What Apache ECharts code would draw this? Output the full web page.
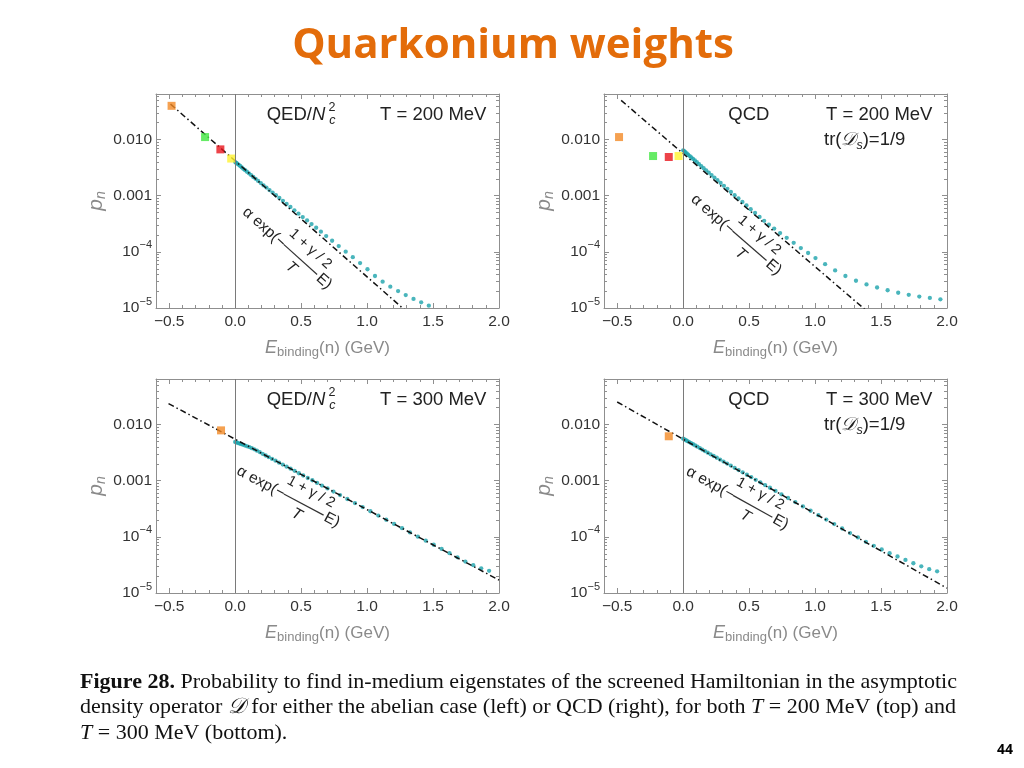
<!DOCTYPE html>
<html><head><meta charset="utf-8">
<script src="https://cdn.jsdelivr.net/npm/echarts@6/dist/echarts.min.js"></script>
<style>html,body{margin:0;padding:0;background:#fff;}#c{width:1024px;height:768px;}</style>
</head><body><div id="c"></div>
<script>
// ---------- axis ticks ----------
const xTickValues = [-0.5, 0, 0.5, 1.0, 1.5, 2.0];
const xTickLabels = ['−0.5', '0.0', '0.5', '1.0', '1.5', '2.0'];
const yTickExponents = [-5, -4, -3, -2];
const yTickLabels = ['{m|10}{s|−5}', '{m|10}{s|−4}', '{m|0.001}', '{m|0.010}'];
const xMin = -0.6, xMax = 2.0, yMin = 1e-5, yMax = 0.065;

// ---------- panel 1: QED/Nc^2, T = 200 MeV ----------
const qed200BoundE = [-0.482, -0.228, -0.112, -0.030];
const qed200BoundP = [0.040, 0.0111, 0.0067, 0.0046];
const qed200ContE = [0.000,0.008,0.017,0.027,0.038,0.050,0.062,0.075,0.089,0.104,0.120,0.137,0.155,0.174,0.194,0.215,0.237,0.260,0.284,0.309,0.335,0.362,0.390,0.419,0.449,0.480,0.512,0.545,0.579,0.614,0.650,0.690,0.735,0.785,0.838,0.892,0.947,1.003,1.060,1.118,1.176,1.235,1.293,1.352,1.410,1.468];
const qed200ContP = [3.98e-3,3.85e-3,3.72e-3,3.55e-3,3.39e-3,3.20e-3,3.02e-3,2.85e-3,2.69e-3,2.51e-3,2.34e-3,2.16e-3,2.00e-3,1.84e-3,1.68e-3,1.53e-3,1.40e-3,1.26e-3,1.14e-3,1.02e-3,9.12e-4,8.13e-4,7.16e-4,6.31e-4,5.50e-4,4.79e-4,4.17e-4,3.63e-4,3.13e-4,2.69e-4,2.29e-4,1.91e-4,1.58e-4,1.27e-4,1.01e-4,8.04e-5,6.31e-5,4.90e-5,3.72e-5,2.95e-5,2.40e-5,2.00e-5,1.70e-5,1.45e-5,1.26e-5,1.10e-5];
const qed200FitE = [-0.49, 1.30];
const qed200FitP = [0.043, 8.6e-6];

// ---------- panel 2: QCD, T = 200 MeV ----------
const qcd200BoundE = [-0.486, -0.228, -0.109, -0.035];
const qcd200BoundP = [0.0111, 0.0051, 0.0049, 0.0051];
const qcd200ContE = [0.000,0.008,0.017,0.027,0.038,0.050,0.062,0.075,0.089,0.104,0.120,0.137,0.155,0.174,0.194,0.215,0.237,0.260,0.284,0.309,0.335,0.362,0.390,0.419,0.449,0.480,0.512,0.545,0.579,0.614,0.650,0.690,0.735,0.785,0.838,0.892,0.947,1.003,1.076,1.152,1.230,1.310,1.390,1.470,1.550,1.630,1.710,1.790,1.870,1.950];
const qcd200ContP = [6.46e-3,6.22e-3,5.96e-3,5.69e-3,5.40e-3,5.09e-3,4.82e-3,4.53e-3,4.25e-3,3.95e-3,3.66e-3,3.38e-3,3.10e-3,2.84e-3,2.58e-3,2.34e-3,2.11e-3,1.89e-3,1.69e-3,1.50e-3,1.33e-3,1.17e-3,1.02e-3,8.93e-4,7.76e-4,6.70e-4,5.75e-4,4.93e-4,4.20e-4,3.57e-4,3.05e-4,2.60e-4,2.16e-4,1.78e-4,1.45e-4,1.17e-4,9.55e-5,7.76e-5,6.03e-5,4.68e-5,3.72e-5,3.06e-5,2.63e-5,2.32e-5,2.07e-5,1.87e-5,1.72e-5,1.60e-5,1.51e-5,1.43e-5];
const qcd200FitE = [-0.47, 1.40];
const qcd200FitP = [0.050, 8.5e-6];

// ---------- panel 3: QED/Nc^2, T = 300 MeV ----------
const qed300BoundE = [-0.107];
const qed300BoundP = [0.0079];
const qed300ContE = [0.000,0.010,0.021,0.033,0.046,0.060,0.075,0.091,0.108,0.126,0.145,0.165,0.186,0.208,0.231,0.255,0.280,0.306,0.333,0.361,0.390,0.420,0.451,0.483,0.516,0.550,0.585,0.621,0.658,0.700,0.745,0.795,0.850,0.908,0.966,1.025,1.085,1.145,1.205,1.265,1.325,1.385,1.445,1.505,1.565,1.625,1.685,1.745,1.805,1.865,1.925];
const qed300ContP = [4.90e-3,4.81e-3,4.71e-3,4.60e-3,4.49e-3,4.37e-3,4.24e-3,4.10e-3,3.98e-3,3.80e-3,3.63e-3,3.43e-3,3.24e-3,3.02e-3,2.82e-3,2.63e-3,2.45e-3,2.28e-3,2.10e-3,1.94e-3,1.78e-3,1.64e-3,1.50e-3,1.36e-3,1.24e-3,1.12e-3,1.02e-3,9.16e-4,8.22e-4,7.29e-4,6.41e-4,5.55e-4,4.73e-4,4.00e-4,3.39e-4,2.86e-4,2.40e-4,2.02e-4,1.70e-4,1.43e-4,1.20e-4,1.01e-4,8.55e-5,7.24e-5,6.10e-5,5.13e-5,4.32e-5,3.63e-5,3.13e-5,2.75e-5,2.48e-5];
const qed300FitE = [-0.505, 2.0];
const qed300FitP = [0.0237, 1.70e-5];

// ---------- panel 4: QCD, T = 300 MeV ----------
const qcd300BoundE = [-0.109];
const qcd300BoundP = [0.0062];
const qcd300ContE = [0.000,0.010,0.021,0.033,0.046,0.060,0.075,0.091,0.108,0.126,0.145,0.165,0.186,0.208,0.231,0.255,0.280,0.306,0.333,0.361,0.390,0.420,0.451,0.483,0.516,0.550,0.585,0.621,0.658,0.700,0.745,0.795,0.850,0.908,0.966,1.025,1.085,1.145,1.205,1.265,1.325,1.385,1.445,1.505,1.565,1.625,1.685,1.745,1.805,1.865,1.925];
const qcd300ContP = [5.62e-3,5.46e-3,5.27e-3,5.08e-3,4.89e-3,4.68e-3,4.47e-3,4.26e-3,4.04e-3,3.82e-3,3.60e-3,3.38e-3,3.17e-3,2.96e-3,2.76e-3,2.57e-3,2.38e-3,2.20e-3,2.02e-3,1.86e-3,1.70e-3,1.55e-3,1.41e-3,1.28e-3,1.16e-3,1.04e-3,9.38e-4,8.39e-4,7.50e-4,6.59e-4,5.74e-4,4.93e-4,4.17e-4,3.49e-4,2.92e-4,2.44e-4,2.03e-4,1.69e-4,1.41e-4,1.17e-4,9.77e-5,8.17e-5,6.92e-5,5.96e-5,5.13e-5,4.47e-5,3.89e-5,3.39e-5,2.99e-5,2.66e-5,2.43e-5];
const qcd300FitE = [-0.50, 2.0];
const qcd300FitP = [0.0253, 1.22e-5];

const boundColors = ['#f28a26', '#3ee63e', '#e8141c', '#fff230'];
const contColor = '#1ba3ab';

const panels = [
  {kind:'QED', T:'200', bE:qed200BoundE, bP:qed200BoundP, cE:qed200ContE, cP:qed200ContP, fE:qed200FitE, fP:qed200FitP},
  {kind:'QCD', T:'200', bE:qcd200BoundE, bP:qcd200BoundP, cE:qcd200ContE, cP:qcd200ContP, fE:qcd200FitE, fP:qcd200FitP},
  {kind:'QED', T:'300', bE:qed300BoundE, bP:qed300BoundP, cE:qed300ContE, cP:qed300ContP, fE:qed300FitE, fP:qed300FitP},
  {kind:'QCD', T:'300', bE:qcd300BoundE, bP:qcd300BoundP, cE:qcd300ContE, cP:qcd300ContP, fE:qcd300FitE, fP:qcd300FitP}
];

// ---------- layout ----------
const layout = [
  {left:156, top:94, ax:244.7, ay:210, rot:42},
  {left:604, top:94, ax:693, ay:197.3, rot:41},
  {left:156, top:379, ax:237.7, ay:470, rot:28},
  {left:604, top:379, ax:687.3, ay:470.6, rot:29}
];
const W = 343, H = 214;
const frameColor = '#8f8f8f', labelColor = '#333', nameColor = '#8a8a8a';
const sans = 'Liberation Sans';
const logMin = Math.log10(yMin), logMax = Math.log10(yMax);
const yMinorTicks = [];
for (let n = -5; n <= -2; n++) for (let k = 2; k <= 9; k++) { const v = n + Math.log10(k); if (v < logMax) yMinorTicks.push(v); }

const grids = [], xAxes = [], yAxes = [], series = [], graphics = [];
const findIdx = (arr, v) => arr.findIndex(e => Math.abs(e - v) < 1e-7);

panels.forEach((p, i) => {
  const L = layout[i];
  grids.push({left:L.left, top:L.top, width:W, height:H});
  const xb = xAxes.length, yb = yAxes.length;
  const frameLine = {show:true, onZero:false, lineStyle:{color:frameColor, width:1}};
  const noLine = {show:false, onZero:false};
  const majX = {show:true, inside:true, length:5, customValues:xTickValues, lineStyle:{color:frameColor}};
  const minX = {show:true, inside:true, length:3, lineStyle:{color:frameColor}};
  const majY = {show:true, inside:true, length:5, customValues:yTickExponents, lineStyle:{color:frameColor}};
  const minY = {show:true, inside:true, length:3, customValues:yMinorTicks, lineStyle:{color:frameColor}};
  // x axes
  xAxes.push({gridIndex:i, type:'value', position:'bottom', min:xMin, max:xMax, axisLine:frameLine, axisTick:majX, splitLine:{show:false},
    axisLabel:{show:true, customValues:xTickValues, formatter:v => { const k = findIdx(xTickValues, v); return k >= 0 ? xTickLabels[k] : ''; },
      color:labelColor, fontFamily:sans, fontSize:15.5, margin:6},
    name:'{e|E}{b|binding}{t|(n) (GeV)}', nameLocation:'middle', nameGap:29,
    nameTextStyle:{color:nameColor, rich:{
      e:{fontFamily:sans, fontSize:18, fontStyle:'italic', color:nameColor, lineHeight:22},
      b:{fontFamily:sans, fontSize:13, color:nameColor, lineHeight:13, verticalAlign:'bottom'},
      t:{fontFamily:sans, fontSize:17, color:nameColor, lineHeight:22}}}});
  xAxes.push({gridIndex:i, type:'value', position:'bottom', min:xMin, max:xMax, interval:0.1, axisLine:noLine, axisTick:minX, axisLabel:{show:false}, splitLine:{show:false}});
  xAxes.push({gridIndex:i, type:'value', position:'top', min:xMin, max:xMax, axisLine:frameLine, axisTick:majX, axisLabel:{show:false}, splitLine:{show:false}});
  xAxes.push({gridIndex:i, type:'value', position:'top', min:xMin, max:xMax, interval:0.1, axisLine:noLine, axisTick:minX, axisLabel:{show:false}, splitLine:{show:false}});
  // y axes
  yAxes.push({gridIndex:i, type:'log', logBase:10, position:'left', min:yMin, max:yMax, axisLine:frameLine, axisTick:{show:false}, axisLabel:{show:false}, splitLine:{show:false},
    name:'{p|p}{n|n}', nameLocation:'middle', nameGap:48,
    nameTextStyle:{color:nameColor, rich:{
      p:{fontFamily:sans, fontSize:21, fontStyle:'italic', color:nameColor, lineHeight:24},
      n:{fontFamily:sans, fontSize:14, fontStyle:'italic', color:nameColor, lineHeight:14, verticalAlign:'bottom'}}}});
  yAxes.push({gridIndex:i, type:'value', position:'left', min:logMin, max:logMax, axisLine:noLine, axisTick:majY, splitLine:{show:false},
    axisLabel:{show:true, customValues:yTickExponents, margin:4,
      formatter:v => { const k = findIdx(yTickExponents, v); return k >= 0 ? yTickLabels[k] : ''; },
      rich:{m:{fontFamily:sans, fontSize:15.5, color:labelColor, lineHeight:24},
            s:{fontFamily:sans, fontSize:11, color:labelColor, lineHeight:12, verticalAlign:'top'}}}});
  yAxes.push({gridIndex:i, type:'value', position:'left', min:logMin, max:logMax, axisLine:noLine, axisTick:minY, axisLabel:{show:false}, splitLine:{show:false}});
  yAxes.push({gridIndex:i, type:'value', position:'right', min:logMin, max:logMax, axisLine:frameLine, axisTick:majY, axisLabel:{show:false}, splitLine:{show:false}});
  yAxes.push({gridIndex:i, type:'value', position:'right', min:logMin, max:logMax, axisLine:noLine, axisTick:minY, axisLabel:{show:false}, splitLine:{show:false}});

  // series
  series.push({type:'scatter', xAxisIndex:xb, yAxisIndex:yb, symbol:'circle', symbolSize:4.3,
    itemStyle:{color:contColor}, data:p.cE.map((e, k) => [e, p.cP[k]]), z:2, silent:true,
    markLine:{silent:true, symbol:['none','none'], label:{show:false}, lineStyle:{color:'#7a7a7a', type:'solid', width:1}, data:[{xAxis:0}]}});
  series.push({type:'line', xAxisIndex:xb, yAxisIndex:yb, showSymbol:false, symbol:'none', silent:true,
    lineStyle:{color:'#111', width:1.5, type:[6, 3, 1.5, 3]}, data:p.fE.map((e, k) => [e, p.fP[k]]), z:3});
  series.push({type:'scatter', xAxisIndex:xb, yAxisIndex:yb, symbol:'rect', symbolSize:8, silent:true, z:4,
    data:p.bE.map((e, k) => ({value:[e, p.bP[k]], itemStyle:{color:boundColors[k]}}))});

  // panel labels
  const gx = L.left, gy = L.top;
  const txt = (x, y, text, size, extra) => Object.assign({type:'text', x:x, y:y, z:10,
    style:Object.assign({text:text, fontFamily:sans, fontSize:size, fill:'#222', align:'left', verticalAlign:'middle'}, extra || {})});
  if (p.kind === 'QED') {
    graphics.push(txt(gx + 110.7, gy + 20.7, '{a|QED/}{i|N}', 18.5, {rich:{a:{fontFamily:sans, fontSize:18.5, fill:'#222'}, i:{fontFamily:sans, fontSize:18.5, fontStyle:'italic', fill:'#222'}}}));
    graphics.push(txt(gx + 172.5, gy + 13.3, '2', 12.5));
    graphics.push(txt(gx + 173.3, gy + 27, 'c', 12.5, {fontStyle:'italic'}));
  } else {
    graphics.push(txt(gx + 124.3, gy + 20.5, 'QCD', 18.5));
    graphics.push(txt(gx + 220, gy + 46, '{a|tr(}{d|𝒟}{s|s}{a|)=1/9}', 18.5, {rich:{
      a:{fontFamily:sans, fontSize:18.5, fill:'#222', lineHeight:24},
      d:{fontFamily:sans, fontSize:18.5, fontStyle:'italic', fill:'#222', lineHeight:24},
      s:{fontFamily:sans, fontSize:12.5, fontStyle:'italic', fill:'#222', lineHeight:13, verticalAlign:'bottom'}}}));
  }
  graphics.push(txt(gx + (p.kind === 'QED' ? 224 : 222), gy + 20.5, 'T = ' + p.T + ' MeV', 18.5));

  // rotated formula
  graphics.push({type:'group', x:L.ax, y:L.ay, rotation:-L.rot * Math.PI / 180, z:10, children:[
    {type:'text', x:0, y:0, style:{text:'α exp(−', fontFamily:sans, fontSize:15.5, fill:'#222', align:'left', verticalAlign:'middle'}},
    {type:'line', shape:{x1:52, y1:-0.5, x2:97, y2:-0.5}, style:{stroke:'#333', lineWidth:1.2}},
    {type:'text', x:75, y:-15, style:{text:'1 + γ / 2', fontFamily:sans, fontSize:14.5, fill:'#222', align:'center', verticalAlign:'middle'}},
    {type:'text', x:73, y:11.5, style:{text:'T', fontFamily:sans, fontSize:15.5, fontStyle:'italic', fill:'#222', align:'center', verticalAlign:'middle'}},
    {type:'text', x:99, y:0, style:{text:'E)', fontFamily:sans, fontSize:15.5, fill:'#222', align:'left', verticalAlign:'middle'}}
  ]});
});

// title, caption, page number
graphics.push({type:'text', x:513, y:46, z:10, style:{text:'Quarkonium weights', fontFamily:'Open Sans', fontWeight:'bold', fontSize:42, fill:'#e36c0a', align:'center', verticalAlign:'middle'}});
const serif = 'Liberation Serif';
const capSize = 22;
const capRich = {
  b:{fontFamily:serif, fontSize:capSize, fontWeight:'bold', fill:'#111'},
  r:{fontFamily:serif, fontSize:capSize, fill:'#111'},
  i:{fontFamily:serif, fontSize:capSize, fontStyle:'italic', fill:'#111'}
};
const capLines = [
  '{b|Figure 28.}{r| Probability to find in-medium eigenstates of the screened Hamiltonian in the asymptotic}',
  '{r|density operator }{i|𝒟}{r| for either the abelian case (left) or QCD (right), for both }{i|T}{r| = 200 MeV (top) and}',
  '{i|T}{r| = 300 MeV (bottom).}'
];
const capY = [682, 707, 733];
capLines.forEach((t, k) => graphics.push({type:'text', x:80, y:capY[k], z:10,
  style:{text:t, rich:capRich, fontFamily:serif, fontSize:capSize, fill:'#111', align:'left', verticalAlign:'middle'}}));
graphics.push({type:'text', x:1005, y:750, z:10, style:{text:'44', fontFamily:'Open Sans', fontWeight:'bold', fontSize:14, fill:'#000', align:'center', verticalAlign:'middle'}});

const chart = echarts.init(document.getElementById('c'), null, {renderer:'canvas', width:1024, height:768});
chart.setOption({
  animation:false,
  backgroundColor:'#fff',
  grid:grids, xAxis:xAxes, yAxis:yAxes, series:series, graphic:graphics
});
</script></body></html>
